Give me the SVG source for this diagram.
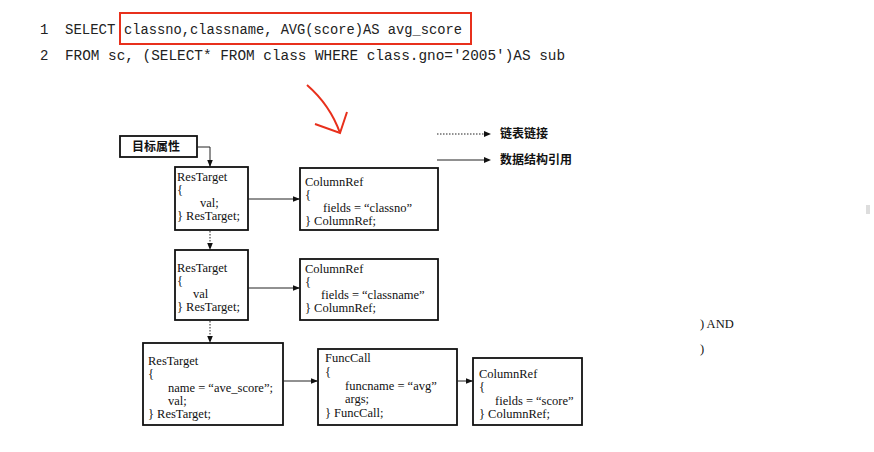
<svg xmlns="http://www.w3.org/2000/svg" width="874" height="452" viewBox="0 0 874 452">
<defs>
<style>
.code{font-family:"Liberation Mono","DejaVu Sans Mono",monospace;font-size:14px;fill:#222}
.t{font-family:"Liberation Serif","Times New Roman",serif;font-size:12.5px;fill:#111}
.cjk{font-family:"Noto Sans CJK SC","Noto Sans",sans-serif;font-size:12px;font-weight:bold;fill:#111}
.box{fill:#fff;stroke:#111;stroke-width:1.8}
.ln{fill:none;stroke:#222;stroke-width:1}
.dot{fill:none;stroke:#222;stroke-width:1;stroke-dasharray:1.5 1.5}
</style>
<marker id="ah" viewBox="0 0 10 10" refX="10" refY="5" markerWidth="7" markerHeight="7" orient="auto" markerUnits="userSpaceOnUse">
<path d="M0,1 L10,5 L0,9 z" fill="#111"/>
</marker>
</defs>
<rect width="874" height="452" fill="#fff"/>

<g id="code">
<text class="code" x="40" y="34">1</text>
<text class="code" x="65" y="34">SELECT</text>
<text class="code" x="124" y="34" textLength="338" lengthAdjust="spacingAndGlyphs">classno,classname, AVG(score)AS avg_score</text>
<text class="code" x="40" y="60">2</text>
<text class="code" x="65" y="60" textLength="500" lengthAdjust="spacingAndGlyphs">FROM sc, (SELECT*  FROM class WHERE class.gno='2005')AS sub</text>
<rect x="120" y="13" width="351" height="31" fill="none" stroke="#e8301c" stroke-width="2"/>
<path d="M307,85 Q330,105 340,133" fill="none" stroke="#e8301c" stroke-width="2"/>
<path d="M315,124 L340,133 L347,112" fill="none" stroke="#e8301c" stroke-width="2"/>
</g>

<g id="legend">
<line class="dot" x1="437" y1="134" x2="484" y2="134"/>
<path d="M484,131 L491,134 L484,137 z" fill="#111"/>
<text class="cjk" x="500" y="138">链表链接</text>
<line class="ln" x1="437" y1="160" x2="484" y2="160"/>
<path d="M484,157 L491,160 L484,163 z" fill="#111"/>
<text class="cjk" x="500" y="164">数据结构引用</text>
</g>

<g id="target">
<rect class="box" x="120" y="136" width="77" height="21"/>
<text class="cjk" x="132" y="151">目标属性</text>
</g>

<g id="restarget1">
<rect class="box" x="175" y="167" width="73" height="63"/>
<text class="t" x="177" y="181">ResTarget</text>
<text class="t" x="177" y="194">{</text>
<text class="t" x="200" y="207">val;</text>
<text class="t" x="177" y="220">} ResTarget;</text>
</g>

<g id="columnref1">
<rect class="box" x="300" y="168" width="138" height="62"/>
<text class="t" x="305" y="186">ColumnRef</text>
<text class="t" x="305" y="199">{</text>
<text class="t" x="323" y="212">fields = “classno”</text>
<text class="t" x="305" y="225">} ColumnRef;</text>
</g>

<g id="restarget2">
<rect class="box" x="175" y="250" width="73" height="70"/>
<text class="t" x="177" y="272">ResTarget</text>
<text class="t" x="177" y="285">{</text>
<text class="t" x="193" y="298">val</text>
<text class="t" x="177" y="311">} ResTarget;</text>
</g>

<g id="columnref2">
<rect class="box" x="300" y="259" width="138" height="61"/>
<text class="t" x="305" y="273">ColumnRef</text>
<text class="t" x="305" y="286">{</text>
<text class="t" x="321" y="299">fields = “classname”</text>
<text class="t" x="305" y="312">} ColumnRef;</text>
</g>

<g id="restarget3">
<rect class="box" x="143" y="343" width="140" height="82"/>
<text class="t" x="148" y="365">ResTarget</text>
<text class="t" x="148" y="378">{</text>
<text class="t" x="168" y="392">name = “ave_score”;</text>
<text class="t" x="168" y="405">val;</text>
<text class="t" x="148" y="418">} ResTarget;</text>
</g>

<g id="funccall">
<rect class="box" x="318" y="349" width="139" height="76"/>
<text class="t" x="325" y="362">FuncCall</text>
<text class="t" x="325" y="376">{</text>
<text class="t" x="345" y="390">funcname = “avg”</text>
<text class="t" x="345" y="403">args;</text>
<text class="t" x="325" y="417">} FuncCall;</text>
</g>

<g id="columnref3">
<rect class="box" x="473" y="358" width="109" height="67"/>
<text class="t" x="479" y="378">ColumnRef</text>
<text class="t" x="479" y="391">{</text>
<text class="t" x="495" y="405">fields = “score”</text>
<text class="t" x="479" y="418">} ColumnRef;</text>
</g>

<g id="connectors">
<path class="ln" d="M197,147 H210 V167" marker-end="url(#ah)"/>
<line class="ln" x1="248" y1="199" x2="300" y2="199" marker-end="url(#ah)"/>
<line class="dot" x1="210" y1="231" x2="210" y2="250" marker-end="url(#ah)"/>
<line class="ln" x1="248" y1="288" x2="300" y2="288" marker-end="url(#ah)"/>
<line class="dot" x1="210" y1="321" x2="210" y2="343" marker-end="url(#ah)"/>
<line class="ln" x1="283" y1="381" x2="318" y2="381" marker-end="url(#ah)"/>
<line class="ln" x1="457" y1="381" x2="473" y2="381" marker-end="url(#ah)"/>
</g>

<g id="side">
<text class="t" x="700" y="328">) AND</text>
<text class="t" x="700" y="353">)</text>
<rect x="866" y="205" width="4" height="9" fill="#ddd"/>
</g>
</svg>
